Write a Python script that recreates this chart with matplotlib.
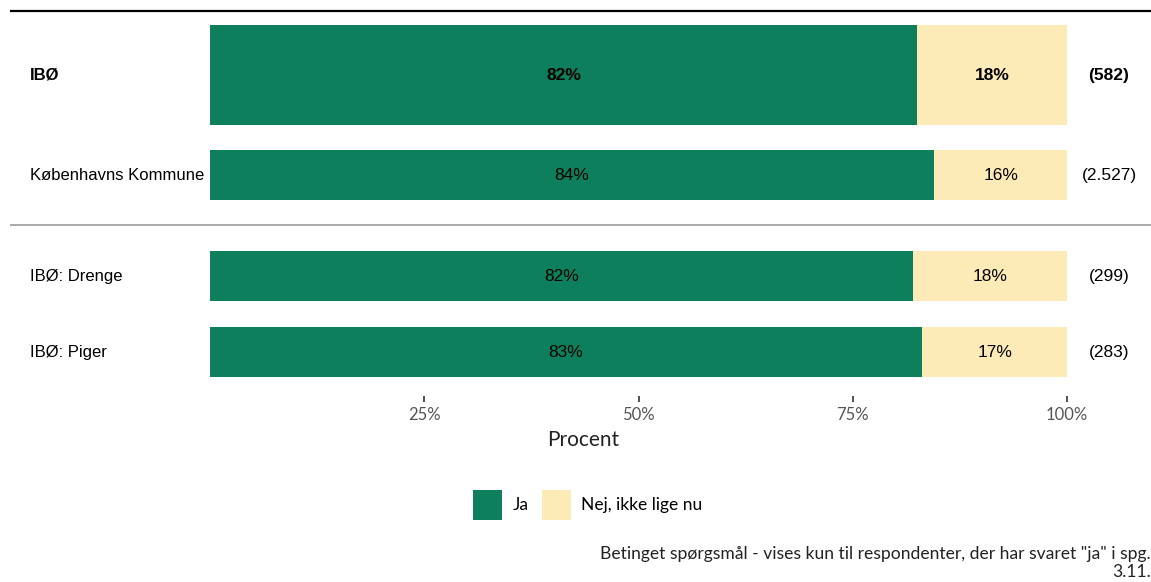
import matplotlib.pyplot as plt
from matplotlib.patches import Patch

# Data
groups = ["IBØ", "Københavns Kommune", "IBØ: Drenge", "IBØ: Piger"]
ja = [82.5, 84.5, 82.0, 83.1]
nej = [17.5, 15.5, 18.0, 16.9]
ja_labels = ["82%", "84%", "82%", "83%"]
nej_labels = ["18%", "16%", "18%", "17%"]
counts = ["(582)", "(2.527)", "(299)", "(283)"]
ticks = [25, 50, 75, 100]
tick_labels = ["25%", "50%", "75%", "100%"]

green = "#0e7f5c"
yellow = "#fdebb7"

# Layout (pixel based)
W, H = 1151, 582
dpi = 100
y_pos = [75, 175, 276, 352]
heights = [100, 50, 50, 50]
bold = [True, False, False, False]
x0_px, x1_px = 210, 1067
top_px, bottom_px = 11, 396

fig = plt.figure(figsize=(W / dpi, H / dpi), dpi=dpi)
ax = fig.add_axes([x0_px / W, 1 - bottom_px / H, (x1_px - x0_px) / W, (bottom_px - top_px) / H])
ax.set_xlim(0, 100)
ax.set_ylim(bottom_px, top_px)
px = 100 / (x1_px - x0_px)  # data units per pixel

ax.barh(y_pos, ja, height=heights, color=green, edgecolor="none")
ax.barh(y_pos, nej, left=ja, height=heights, color=yellow, edgecolor="none")

row_font = "Liberation Sans"
for i, g in enumerate(groups):
    w = "bold" if bold[i] else "normal"
    ax.text((30 - x0_px) * px, y_pos[i], g, ha="left", va="center",
            fontsize=12, fontweight=w, family=row_font, clip_on=False)
    ax.text(ja[i] / 2, y_pos[i], ja_labels[i], ha="center", va="center",
            fontsize=12.5, fontweight=w, family=row_font, color="black")
    ax.text(ja[i] + nej[i] / 2, y_pos[i], nej_labels[i], ha="center", va="center",
            fontsize=12.5, fontweight=w, family=row_font, color="black")
    ax.text((1109 - x0_px) * px, y_pos[i], counts[i], ha="center", va="center",
            fontsize=12.5, fontweight=w, family=row_font, clip_on=False)

# separator lines
ax.plot([(10 - x0_px) * px, (W - x0_px) * px], [top_px, top_px], color="black",
        lw=1.6, clip_on=False, solid_capstyle="butt")
ax.plot([(10 - x0_px) * px, (W - x0_px) * px], [225, 225], color="#aaaaaa",
        lw=1.4, clip_on=False, solid_capstyle="butt")

for s in ax.spines.values():
    s.set_visible(False)
ax.set_yticks([])
ax.set_xticks(ticks)
ax.set_xticklabels(tick_labels, family="Lato", fontsize=12, color="#555555")
ax.tick_params(axis="x", length=4, width=1.2, color="#333333", pad=4)
ax.set_xlabel("Procent", family="Lato", fontsize=15, color="#222222")
ax.xaxis.set_label_coords((583 - x0_px) / (x1_px - x0_px), -(440 - bottom_px) / (bottom_px - top_px))
ax.xaxis.label.set_va("center")

handles = [Patch(facecolor=green, label="Ja"), Patch(facecolor=yellow, label="Nej, ikke lige nu")]
fig.legend(handles=handles, loc="center", bbox_to_anchor=(588 / W, 1 - 505 / H), ncol=2,
           frameon=False, prop={"family": "Lato", "size": 12.5}, handlelength=1.65,
           handleheight=2.25, handletextpad=0.6, columnspacing=0.8)

fig.text(1.0, 1 - 563 / H, 'Betinget spørgsmål - vises kun til respondenter, der har svaret "ja" i spg.\n3.11.',
         ha="right", va="center", family="Lato", fontsize=12.6, color="#222222", linespacing=1.1)

fig.savefig("out.png", dpi=dpi)
